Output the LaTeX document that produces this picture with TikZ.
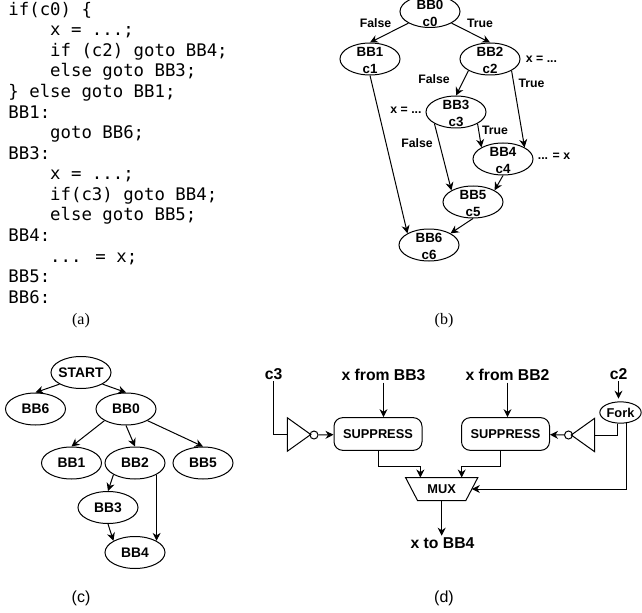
\documentclass[tikz,border=0pt]{standalone}
\usepackage{fontspec}
\setmainfont{Liberation Sans}
\newfontfamily\codefont{DejaVu Sans Mono}
\newfontfamily\capfont{Liberation Serif}
\usetikzlibrary{arrows.meta, shapes.geometric}
\renewcommand{\arraystretch}{1.03}
\newcommand{\bbl}[2]{\raisebox{-4.6pt}[0pt][0pt]{\begin{tabular}{@{}c@{}}#1\\#2\end{tabular}}}
\tikzset{
  bb/.style={draw, ellipse, inner sep=0pt, minimum width=45pt, minimum height=24pt,
    font=\bfseries\fontsize{10}{12.3}\selectfont},
  bbs/.style={draw, ellipse, inner sep=0pt, minimum width=45pt, minimum height=24pt,
    font=\bfseries\fontsize{10.4}{12.5}\selectfont},
  lab/.style={font=\bfseries\fontsize{9.2}{11}\selectfont, inner sep=0pt},
  big/.style={font=\bfseries\fontsize{11.8}{14}\selectfont, inner sep=1pt},
  supp/.style={draw, rounded corners=6.5pt, minimum width=66pt, minimum height=24.5pt, inner sep=0pt,
    font=\bfseries\fontsize{9.6}{11}\selectfont},
  inv/.style={draw, isosceles triangle, isosceles triangle stretches, inner sep=0pt,
    minimum width=25pt, minimum height=17.5pt},
  bub/.style={draw, circle, inner sep=0pt, minimum size=6pt},
  arr/.style={-{Stealth[length=6pt, width=6pt]}},
}
\begin{document}
\begin{tikzpicture}[x=0.75pt, y=-0.75pt, line width=0.75pt]
  \useasboundingbox (0,0) rectangle (642,613);

  % (a) code
  \node[anchor=north west, align=left, inner sep=0pt, font=\codefont\fontsize{13}{15.43}\selectfont] (code) at (8,1.5) {%
    if(c0) \{\\
    \phantom{xxxx}x = ...;\\
    \phantom{xxxx}if (c2) goto BB4;\\
    \phantom{xxxx}else goto BB3;\\
    \} else goto BB1;\\
    BB1:\\
    \phantom{xxxx}goto BB6;\\
    BB3:\\
    \phantom{xxxx}x = ...;\\
    \phantom{xxxx}if(c3) goto BB4;\\
    \phantom{xxxx}else goto BB5;\\
    BB4:\\
    \phantom{xxxx}... = x;\\
    BB5:\\
    BB6:};
  \node[font=\capfont\fontsize{12}{14}\selectfont] (capa) at (81,321) {(a)};

  % (b) CFG
  \node[bb] (b0) at (430,11.5) {\bbl{BB0}{c0}};
  \node[bb] (b1) at (370,59) {\bbl{BB1}{c1}};
  \node[bb] (b2) at (490,59) {\bbl{BB2}{c2}};
  \node[bb] (b3) at (456,112) {\bbl{BB3}{c3}};
  \node[bb] (b4) at (503,159) {\bbl{BB4}{c4}};
  \node[bb] (b5) at (473,202) {\bbl{BB5}{c5}};
  \node[bb] (b6) at (429,245) {\bbl{BB6}{c6}};

  \draw[arr] (b0.south west) -- (b1.north);
  \draw[arr] (b0.south east) -- (b2.north);
  \draw[arr] (b1.south) -- (b6.north west);
  \draw[arr] (b2.south west) -- (b3.north);
  \draw[arr] (b2.south east) -- (b4.north east);
  \draw[arr] (b3.south east) -- (b4.north west);
  \draw[arr] (b3.south west) -- (b5.north west);
  \draw[arr] (b4.south) -- (b5.north east);
  \draw[arr] (b5.south) -- (b6.north east);

  \node[lab] (lf0) at (375.5,23) {False};
  \node[lab] (lt0) at (480,23) {True};
  \node[lab] (lx2) at (541.5,59) {x = ...};
  \node[lab] (lt2) at (531.5,83) {True};
  \node[lab] (lf2) at (434,79) {False};
  \node[lab] (lx3) at (406,110.5) {x = ...};
  \node[lab] (lt3) at (495,130.5) {True};
  \node[lab] (lf3) at (417,143) {False};
  \node[lab] (lx4) at (554,156.5) {... = x};
  \node[font=\capfont\fontsize{12}{14}\selectfont] (capb) at (444,321) {(b)};

  % (c) dominator tree
  \node[bbs] (start) at (81,372.5) {\makebox[0pt]{START}};
  \node[bbs] (t6) at (35.5,409) {BB6};
  \node[bbs] (t0) at (126,409) {BB0};
  \node[bbs] (t1) at (71.5,463) {BB1};
  \node[bbs] (t2) at (135,463) {BB2};
  \node[bbs] (t5) at (203,463) {BB5};
  \node[bbs] (t3) at (108,507.5) {BB3};
  \node[bbs] (t4) at (135,552.5) {BB4};

  \draw[arr] (start.south west) -- (t6.north);
  \draw[arr] (start.south east) -- (t0.north);
  \draw[arr] (t0.south west) -- (t1.north);
  \draw[arr] (t0.south) -- (t2.north);
  \draw[arr] (t0.south east) -- (t5.north);
  \draw[arr] (t2.south west) -- (t3.north);
  \draw[arr] (t2.south east) -- (t4.north east);
  \draw[arr] (t3.south) -- (t4.north west);
  \node[font=\fontsize{12}{14}\selectfont] (capc) at (81,598.5) {(c)};

  % (d) circuit
  \node[big] (c3) at (273.5,374) {c3};
  \node[big] (xb3) at (383.5,375) {x from BB3};
  \node[big] (xb2) at (507.5,375) {x from BB2};
  \node[big] (c2) at (618.5,374) {c2};
  \node[draw, ellipse, inner sep=0pt, minimum width=31pt, minimum height=16pt,
    font=\bfseries\fontsize{9.6}{11}\selectfont] (fork) at (620.5,412.5) {Fork};

  \node[supp] (supl) at (378,434) {SUPPRESS};
  \node[supp] (supr) at (505.5,434) {SUPPRESS};
  \node[inv] (invl) at (296,434.5) {};
  \node[inv, shape border rotate=180] (invr) at (586,435) {};
  \node[bub] (bubl) at (314,435) {};
  \node[bub] (bubr) at (568.5,435) {};

  \node[minimum width=53.5pt, minimum height=16.5pt, inner sep=0pt,
    font=\bfseries\fontsize{9.6}{11}\selectfont] (mux) at (441.7,489) {MUX};
  \draw (mux.north west) -- (mux.north east) -- ([xshift=-9pt]mux.south east)
    -- ([xshift=9pt]mux.south west) -- cycle;
  \coordinate (muxr) at ([xshift=-4.5pt]mux.east);
  \node[big] (xout) at (442.5,543) {x to BB4};

  \draw (c3) -- (c3 |- invl) -- (invl);
  \draw[arr] (bubl) -- (supl);
  \draw[arr] (xb3) -- (xb3 |- supl.north);
  \draw[arr] (xb2) -- (xb2 |- supr.north);
  \draw[arr, shorten >=2pt] (c2) -- (c2 |- fork.north);
  \draw (fork.-104) |- (invr);
  \draw[arr] (bubr) -- (supr);
  \draw[arr] (fork.-62) |- (muxr);
  \draw[arr] (supl.south) -- ++(0,15.5) -| ([xshift=-16pt]mux.north);
  \draw[arr] ([xshift=-4pt]supr.south) -- ++(0,15.5) -| ([xshift=15pt]mux.north);
  \draw[arr] (mux.south) -- (mux.south |- xout.north);
  \node[font=\fontsize{12}{14}\selectfont] (capd) at (444,598.5) {(d)};
\end{tikzpicture}
\end{document}
